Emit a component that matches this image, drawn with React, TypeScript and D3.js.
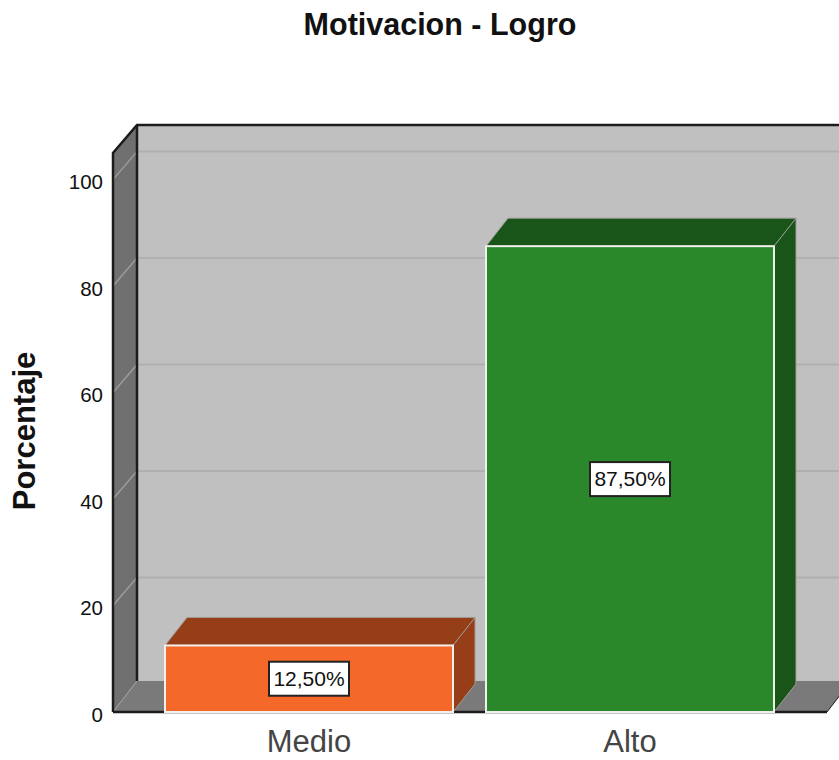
import React, { useEffect, useRef } from 'react';
import * as d3 from 'd3';

const categories = ['Medio', 'Alto'];
const percentages = [12.5, 87.5];
const valueLabels = ['12,50%', '87,50%'];
const yTicks = [0, 20, 40, 60, 80, 100];
const faceColors = ['#f4682a', '#2a872a'];
const shadeColors = ['#963e17', '#195519'];

const FONT = '"Liberation Sans", Arial, sans-serif';
const WIDTH = 839;
const HEIGHT = 760;

export default function App() {
  const svgRef = useRef<SVGSVGElement | null>(null);

  useEffect(() => {
    const svg = d3.select(svgRef.current);
    svg.selectAll('*').remove();

    // depth of the fake 3d box
    const dx = 24;
    const dy = 28;
    const barDx = 22;

    const left = 113;
    const right = 827;
    const bottom = 712;
    const top = 153;

    const y = d3.scaleLinear().domain([0, 105]).range([bottom, top]);
    const x = d3.scaleBand()
      .domain(categories)
      .range([148.5, 790.5])
      .paddingInner(33 / 321)
      .paddingOuter(16.5 / 321);

    const poly = (pts: number[][], fill: string) =>
      svg.append('polygon')
        .attr('points', pts.map(p => p.join(',')).join(' '))
        .attr('fill', fill);

    // back wall, left wall, floor
    poly([[left + dx, top - dy], [WIDTH + 20, top - dy], [WIDTH + 20, bottom - dy], [left + dx, bottom - dy]], '#c0c0c0');
    poly([[left, top], [left + dx, top - dy], [left + dx, bottom - dy], [left, bottom]], '#707070');
    poly([[left, bottom], [left + dx, bottom - dy - 3], [right + dx, bottom - dy - 3], [right, bottom]], '#7a7a7a');

    // grid lines on both walls
    yTicks.filter(t => t > 0).forEach(t => {
      svg.append('line')
        .attr('x1', left + dx).attr('x2', WIDTH)
        .attr('y1', y(t) - dy).attr('y2', y(t) - dy)
        .attr('stroke', '#b0b0b0').attr('stroke-width', 2);
      svg.append('line')
        .attr('x1', left).attr('x2', left + dx)
        .attr('y1', y(t)).attr('y2', y(t) - dy)
        .attr('stroke', '#9c9c9c').attr('stroke-width', 1.5);
    });
    svg.append('line')
      .attr('x1', left).attr('x2', left + dx)
      .attr('y1', bottom).attr('y2', bottom - dy - 3)
      .attr('stroke', '#a8a8a8').attr('stroke-width', 1);

    // box outline
    svg.append('path')
      .attr('d', `M${left},${bottom}V${top}L${left + dx},${top - dy}H${WIDTH + 5}`)
      .attr('fill', 'none').attr('stroke', '#1c1c1c').attr('stroke-width', 2.5);
    svg.append('line')
      .attr('x1', left + dx).attr('x2', left + dx)
      .attr('y1', top - dy).attr('y2', bottom - dy - 3)
      .attr('stroke', '#1c1c1c').attr('stroke-width', 2.5);
    svg.append('line')
      .attr('x1', left).attr('x2', right)
      .attr('y1', bottom).attr('y2', bottom)
      .attr('stroke', '#1c1c1c').attr('stroke-width', 2.5);
    svg.append('line')
      .attr('x1', right).attr('x2', right + dx)
      .attr('y1', bottom).attr('y2', bottom - dy - 3)
      .attr('stroke', '#1c1c1c').attr('stroke-width', 1);

    // bars
    categories.forEach((c, i) => {
      const x0 = x(c) as number;
      const x1 = x0 + x.bandwidth();
      const yTop = y(percentages[i]);
      poly([[x0, yTop], [x0 + barDx, yTop - dy], [x1 + barDx, yTop - dy], [x1, yTop]], shadeColors[i]);
      poly([[x1, yTop], [x1 + barDx, yTop - dy], [x1 + barDx, bottom - dy], [x1, bottom]], shadeColors[i]);
      svg.append('path')
        .attr('d', `M${x0},${yTop}L${x0 + barDx},${yTop - dy}H${x1 + barDx}V${bottom - dy}L${x1},${bottom}M${x1},${yTop}L${x1 + barDx},${yTop - dy}`)
        .attr('fill', 'none').attr('stroke', '#a09c98').attr('stroke-width', 1);
      svg.append('rect')
        .attr('x', x0).attr('y', yTop)
        .attr('width', x.bandwidth()).attr('height', bottom - yTop)
        .attr('fill', faceColors[i])
        .attr('stroke', '#f0f0ec').attr('stroke-width', 2);

      const cx = x0 + x.bandwidth() / 2;
      const cy = y(percentages[i] / 2);
      svg.append('rect')
        .attr('x', cx - 40).attr('y', cy - 17)
        .attr('width', 80).attr('height', 34)
        .attr('fill', '#fff').attr('stroke', '#222').attr('stroke-width', 2);
      svg.append('text')
        .attr('x', cx).attr('y', cy + 7)
        .attr('text-anchor', 'middle')
        .attr('font-family', FONT).attr('font-size', 21)
        .attr('fill', '#111')
        .text(valueLabels[i]);
    });

    // value axis
    svg.append('g')
      .attr('transform', `translate(${left},0)`)
      .call(d3.axisLeft(y).tickValues(yTicks).tickSize(0).tickPadding(10))
      .call(g => g.select('.domain').remove())
      .call(g => g.selectAll('.tick text')
        .attr('font-family', FONT).attr('font-size', 20.5).attr('fill', '#111')
        .attr('dy', '0.44em'));

    // category axis
    svg.append('g')
      .attr('transform', `translate(0,${bottom})`)
      .call(d3.axisBottom(x).tickSize(0).tickPadding(18))
      .call(g => g.select('.domain').remove())
      .call(g => g.selectAll('.tick text')
        .attr('font-family', FONT).attr('font-size', 31).attr('fill', '#444'));

    svg.append('text')
      .attr('x', 440).attr('y', 35)
      .attr('text-anchor', 'middle')
      .attr('font-family', FONT).attr('font-size', 30.5).attr('font-weight', 'bold')
      .attr('fill', '#111')
      .text('Motivacion - Logro');

    svg.append('text')
      .attr('transform', 'translate(35,431) rotate(-90)')
      .attr('text-anchor', 'middle')
      .attr('font-family', FONT).attr('font-size', 31).attr('font-weight', 'bold')
      .attr('fill', '#111')
      .text('Porcentaje');
  }, []);

  return (
    <svg
      ref={svgRef}
      width={WIDTH}
      height={HEIGHT}
      style={{ position: 'absolute', left: 0, top: 0, background: '#fff', display: 'block' }}
    />
  );
}
